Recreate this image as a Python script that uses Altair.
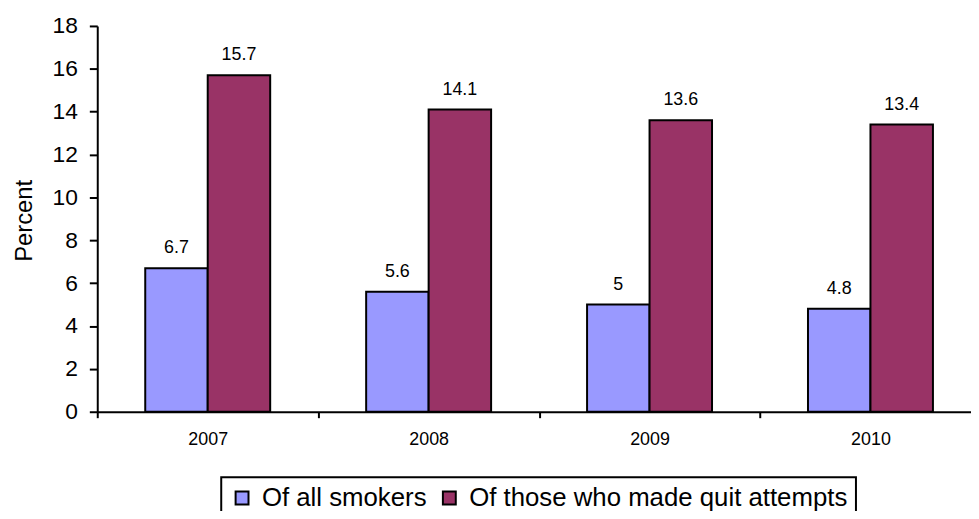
import altair as alt
import pandas as pd

FONT = "Liberation Sans"

years = ["2007", "2008", "2009", "2010"]
series = ["Of all smokers", "Of those who made quit attempts"]
all_smokers = [6.7, 5.6, 5.0, 4.8]
quit_attempters = [15.7, 14.1, 13.6, 13.4]
y_ticks = [0, 2, 4, 6, 8, 10, 12, 14, 16, 18]
colors = ["#9999FF", "#993366"]

rows = []
for i, yr in enumerate(years):
    for s, vals in zip(series, [all_smokers, quit_attempters]):
        rows.append({"year": yr, "series": s, "value": vals[i], "label": f"{vals[i]:g}"})
df = pd.DataFrame(rows)

x_enc = alt.X(
    "year:N",
    sort=years,
    scale=alt.Scale(range=[0, 891], paddingInner=0, paddingOuter=0),
    axis=alt.Axis(
        title=None, labelAngle=0, tickBand="extent", tickSize=6, tickWidth=2,
        domainWidth=2, labelPadding=13, labelFontSize=18, labelFont=FONT,
        labelColor="black", domainColor="black", tickColor="black", grid=False,
    ),
)
xo_enc = alt.XOffset(
    "series:N", sort=series,
    scale=alt.Scale(domain=series, paddingInner=0, paddingOuter=0.768),
)
y_enc = alt.Y(
    "value:Q",
    scale=alt.Scale(domain=[0, 18], nice=False),
    axis=alt.Axis(
        values=y_ticks, title="Percent", tickSize=8, tickWidth=2, domainWidth=2,
        labelPadding=12, labelFontSize=23, labelFont=FONT, labelColor="black",
        domainColor="black", tickColor="black", grid=False,
        titleFontSize=24, titleFont=FONT, titleFontWeight="normal", titleColor="black",
        titleAngle=270, titleX=-66, titleY=196, titleAlign="center",
        titleBaseline="alphabetic",
    ),
)

bars = alt.Chart(df).mark_bar(stroke="black", strokeWidth=2).encode(
    x=x_enc,
    xOffset=xo_enc,
    y=y_enc,
    color=alt.Color(
        "series:N", sort=series,
        scale=alt.Scale(domain=series, range=colors),
        legend=alt.Legend(
            title=None, orient="none", legendX=125, legendY=455,
            direction="horizontal", symbolType="square", symbolSize=169,
            symbolStrokeColor="black", symbolStrokeWidth=2, symbolOpacity=1,
            labelFontSize=26, labelFont=FONT, labelColor="black", labelLimit=700,
            labelOffset=7, columnPadding=9, strokeColor="black", padding=8,
            fillColor="white",
        ),
    ),
)

labels = alt.Chart(df).mark_text(
    dy=-15, baseline="alphabetic", fontSize=18, font=FONT, color="black"
).encode(
    x=x_enc,
    xOffset=xo_enc,
    y=y_enc,
    text="label:N",
)

chart = alt.layer(bars, labels).properties(
    width=881,
    height=389,
    autosize=alt.AutoSizeParams(type="none"),
    padding={"left": 90, "top": 16, "right": 0, "bottom": 98},
).configure_view(stroke=None).configure_legend(strokeWidth=2)

chart.save("out.html", embed_options={"renderer": "svg", "actions": False})
